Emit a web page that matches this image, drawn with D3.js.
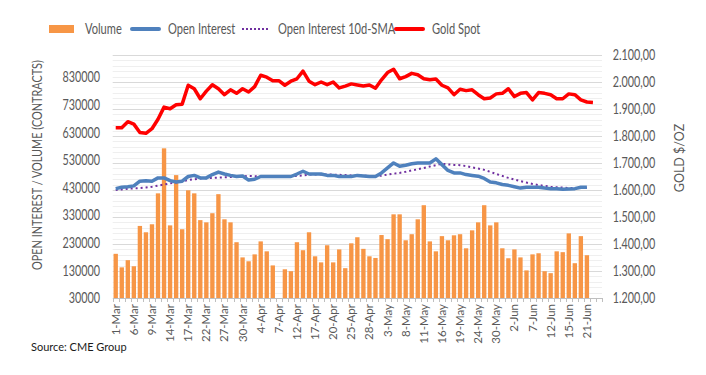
<!DOCTYPE html>
<html>
<head>
<meta charset="utf-8">
<script src="https://cdn.jsdelivr.net/npm/d3@7"></script>
<style>
  body { margin: 0; background: #fff; }
  text { font-family: Lato, "Open Sans", sans-serif; fill: #595959; }
</style>
</head>
<body>
<div id="container"></div>
<script>
const width = 706
const height = 375

// categories: trading days 1-Mar .. 23-Jun
const dates = [
  "1-Mar","2-Mar","3-Mar","6-Mar","7-Mar","8-Mar","9-Mar","10-Mar","13-Mar","14-Mar",
  "15-Mar","16-Mar","17-Mar","20-Mar","21-Mar","22-Mar","23-Mar","24-Mar","27-Mar","28-Mar",
  "29-Mar","30-Mar","31-Mar","3-Apr","4-Apr","5-Apr","6-Apr","7-Apr","10-Apr","11-Apr",
  "12-Apr","13-Apr","14-Apr","17-Apr","18-Apr","19-Apr","20-Apr","21-Apr","24-Apr","25-Apr",
  "26-Apr","27-Apr","28-Apr","1-May","2-May","3-May","4-May","5-May","8-May","9-May",
  "10-May","11-May","12-May","15-May","16-May","17-May","18-May","19-May","22-May","23-May",
  "24-May","25-May","26-May","30-May","31-May","1-Jun","2-Jun","5-Jun","6-Jun","7-Jun",
  "8-Jun","9-Jun","12-Jun","13-Jun","14-Jun","15-Jun","16-Jun","20-Jun","21-Jun","22-Jun",
  "23-Jun"
]

// volume (contracts)
const volume = [
  190000,141000,167000,145000,291000,268000,297000,409000,572000,293000,
  475000,279000,420000,409000,312000,304000,337000,406000,315000,304000,
  232000,177000,163000,188000,235000,199000,148000,null,134000,127000,
  232000,203000,268000,181000,159000,221000,159000,206000,138000,228000,
  250000,208000,181000,175000,258000,243000,333000,333000,239000,261000,
  315000,366000,235000,199000,254000,239000,257000,261000,210000,275000,
  304000,366000,293000,304000,210000,174000,206000,177000,130000,188000,
  192000,127000,120000,199000,196000,264000,156000,254000,185000,null,
  null
]

// open interest (contracts)
const openInterest = [
  426000,431000,433000,436000,453000,455000,453000,465000,465000,455000,
  450000,453000,470000,474000,465000,465000,477000,486000,479000,474000,
  470000,472000,457000,460000,470000,470000,470000,470000,470000,470000,
  479000,489000,479000,479000,479000,474000,474000,470000,470000,470000,
  474000,472000,470000,470000,483000,501000,519000,507000,511000,516000,
  519000,519000,519000,534000,513000,492000,483000,483000,477000,474000,
  471000,463000,450000,447000,441000,438000,433000,428000,431000,431000,
  431000,428000,426000,426000,424000,425000,426000,431000,431000,null,
  null
]

// open interest 10d-SMA
const oiSma = [
  421000,423000,426000,427000,428000,430000,433000,437000,441000,445000,
  448000,452000,457000,460000,463000,464000,465000,466000,467000,468000,
  470000,471000,472000,471000,470000,470000,470000,470000,470000,471000,
  472000,474000,477000,477000,477000,477000,477000,476000,475000,474000,
  474000,473000,472000,471000,473000,477000,480000,483000,487000,492000,
  496000,501000,506000,511000,516000,514000,512000,511000,508000,503000,
  499000,494000,487000,479000,472000,465000,459000,453000,448000,443000,
  439000,436000,433000,431000,430000,428000,428000,428000,429000,null,
  null
]

// gold spot $/oz
const goldSpot = [
  1831,1831,1853,1844,1813,1810,1827,1862,1907,1901,
  1916,1918,1988,1975,1938,1966,1990,1975,1953,1971,
  1958,1975,1963,1983,2025,2018,2005,2005,1988,2003,
  2012,2040,2003,1990,2000,1990,2000,1978,1985,1993,
  1989,1985,1989,1977,2008,2035,2047,2012,2020,2032,
  2027,2012,2008,2011,1988,1978,1953,1973,1968,1971,
  1953,1938,1941,1956,1958,1975,1946,1958,1961,1934,
  1961,1958,1953,1938,1938,1956,1953,1934,1926,1924,
  null
]

const leftTicks = [30000,130000,230000,330000,430000,530000,630000,730000,830000]
const rightTicks = [1200,1300,1400,1500,1600,1700,1800,1900,2000,2100]

const legendItems = ["Volume","Open Interest","Open Interest 10d-SMA","Gold Spot"]

const C_VOL = "#F79646", C_OI = "#4F81BD", C_SMA = "#7030A0", C_GOLD = "#FF0000"

const plot = {left:112.7, right:602, top:55, bottom:298}

const svg = d3.select("#container").append("svg")
  .attr("width",width).attr("height",height)

const x = d3.scaleBand().domain(dates).range([plot.left,plot.right]).paddingInner(0.28).paddingOuter(0.14)
const yL = d3.scaleLinear().domain([30000,910000]).range([plot.bottom,plot.top])
const yR = d3.scaleLinear().domain([1200,2100]).range([plot.bottom,plot.top])
const cx = d => x(d) + x.bandwidth()/2

// squeeze text horizontally (reference text is narrow)
function squeeze(sel,k){
  sel.each(function(){
    const w = this.getComputedTextLength()
    d3.select(this).attr("textLength",w*k).attr("lengthAdjust","spacingAndGlyphs")
  })
}

// grid: minor every 20, major every 100 on gold axis
const minor = d3.range(1200,2101,20)
svg.append("g").selectAll("line").data(minor).join("line")
  .attr("x1",plot.left).attr("x2",plot.right)
  .attr("y1",d=>Math.round(yR(d))+0.5).attr("y2",d=>Math.round(yR(d))+0.5)
  .attr("stroke",d=> d%100===0 ? "#d9d9d9" : "#efefef")
  .attr("stroke-width",1)

// bars
svg.append("g").selectAll("rect")
  .data(dates.map((d,i)=>({d,v:volume[i]})).filter(o=>o.v!=null))
  .join("rect")
  .attr("x",o=>x(o.d)).attr("width",x.bandwidth())
  .attr("y",o=>yL(o.v)).attr("height",o=>yL(30000)-yL(o.v))
  .attr("fill",C_VOL)

// x axis
const xAxis = d3.axisBottom(x)
  .tickValues(dates.filter((d,i)=>i%3===0))
  .tickSize(0).tickPadding(6)
const gx = svg.append("g").attr("transform",`translate(0,${plot.bottom})`).call(xAxis)
gx.select(".domain").attr("stroke","#bfbfbf")
gx.selectAll("text")
  .attr("font-size",11.5).attr("font-family","Lato, sans-serif").attr("fill","#595959")
  .attr("text-anchor","end")
  .attr("transform","rotate(-90)")
  .attr("x",-6).attr("y",0).attr("dy","0.35em")
// small ticks at every category boundary
svg.append("g").selectAll("line").data(dates.concat([null])).join("line")
  .attr("x1",(d,i)=>Math.round(plot.left + i*x.step())+0.5)
  .attr("x2",(d,i)=>Math.round(plot.left + i*x.step())+0.5)
  .attr("y1",plot.bottom).attr("y2",plot.bottom+4)
  .attr("stroke","#bfbfbf")

// lines
const lineL = arr => d3.line().defined(i=>arr[i]!=null).x(i=>cx(dates[i])).y(i=>yL(arr[i]))
const idx = d3.range(dates.length)
svg.append("path").attr("d",lineL(oiSma)(idx))
  .attr("fill","none").attr("stroke",C_SMA).attr("stroke-width",2).attr("stroke-dasharray","2,3")
svg.append("path").attr("d",lineL(openInterest)(idx))
  .attr("fill","none").attr("stroke",C_OI).attr("stroke-width",3.5).attr("stroke-linejoin","round")
const lineR = d3.line().defined(i=>goldSpot[i]!=null).x(i=>cx(dates[i])).y(i=>yR(goldSpot[i]))
svg.append("path").attr("d",lineR(idx))
  .attr("fill","none").attr("stroke",C_GOLD).attr("stroke-width",3.5).attr("stroke-linejoin","round")

// left axis
const gl = svg.append("g").attr("transform","translate(100,0)")
  .call(d3.axisLeft(yL).tickValues(leftTicks).tickSize(0).tickPadding(0).tickFormat(d3.format("d")))
gl.select(".domain").remove()
gl.selectAll("text").attr("font-size",15).attr("font-family","Lato, sans-serif").attr("fill","#595959")
  .call(squeeze,0.72)

// right axis
const loc = d3.formatLocale({decimal:",",thousands:".",grouping:[3],currency:["",""]})
const gr = svg.append("g").attr("transform","translate(612.7,0)")
  .call(d3.axisRight(yR).tickValues(rightTicks).tickSize(0).tickPadding(0).tickFormat(loc.format(",.2f")))
gr.select(".domain").remove()
gr.selectAll("text").attr("font-size",15).attr("font-family","Lato, sans-serif").attr("fill","#595959")
  .call(squeeze,0.72)

// axis titles
svg.append("text").attr("transform","translate(42,165) rotate(-90)")
  .attr("text-anchor","middle").attr("font-size",12.5)
  .text("OPEN INTEREST / VOLUME (CONTRACTS)").call(squeeze,0.87)
svg.append("text").attr("transform","translate(684,158) rotate(-90)")
  .attr("text-anchor","middle").attr("font-size",12.5)
  .text("GOLD $/OZ")

// legend
const lg = svg.append("g")
const legX = [49,132,242,396]
legendItems.forEach((name,i)=>{
  const g = lg.append("g").attr("transform",`translate(${legX[i]},29)`)
  if(i===0) g.append("rect").attr("x",0).attr("y",-4).attr("width",25).attr("height",8).attr("fill",C_VOL)
  if(i===1) g.append("line").attr("x2",27).attr("stroke",C_OI).attr("stroke-width",4).attr("stroke-linecap","round")
  if(i===2) g.append("line").attr("x2",27).attr("stroke",C_SMA).attr("stroke-width",2).attr("stroke-dasharray","2,2")
  if(i===3) g.append("line").attr("x2",27).attr("stroke",C_GOLD).attr("stroke-width",4).attr("stroke-linecap","round")
  g.append("text").attr("x",36).attr("dy","0.35em").attr("font-size",15).text(name).call(squeeze,0.74)
})

// source
svg.append("text").attr("x",31).attr("y",351).attr("font-size",11)
  .style("fill","#1a1a1a").text("Source: CME Group")
</script>
</body>
</html>
